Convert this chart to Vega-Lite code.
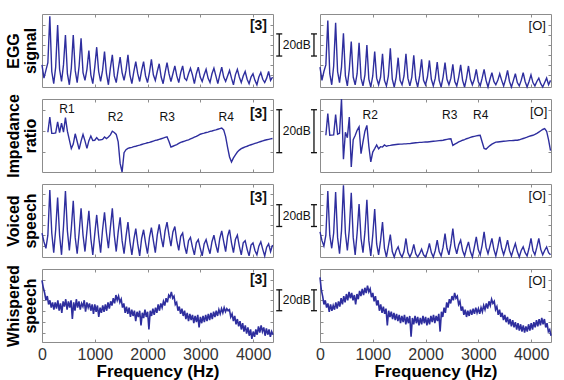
{
"$schema":"https://vega.github.io/schema/vega-lite/v6.json",
"padding":{"left":5,"top":12,"right":5,"bottom":0},
"bounds":"flush",
"spacing":{"row":12,"column":47},
"columns":2,
"config":{
 "font":"Liberation Sans",
 "view":{"stroke":"#8c8c8c"},
 "axis":{"grid":false,"domain":false,"tickColor":"#8c8c8c","tickSize":-3,"labelColor":"#333333","labelFontSize":16,"titleColor":"#000000"},
 "axisY":{"titleFontSize":16,"titleFontWeight":"bold","titleLineHeight":17,"titlePadding":3},
 "line":{"color":"#2e2e9e","strokeWidth":1.4}
},
"datasets":{
"h":[
{"f":0,"e1":20,"e2":18,"v1":22,"v2":23},
{"f":37,"e1":8,"e2":6,"v1":14,"v2":15},
{"f":74,"e1":15,"e2":14,"v1":8,"v2":10},
{"f":111,"e1":22,"e2":20,"i1":18.5,"i2":17.1,"v1":20,"v2":20},
{"f":148,"e1":64,"e2":60,"i1":25.6,"i2":27.2,"v1":61.5,"v2":60.6},
{"f":185,"e1":14,"e2":12,"i1":18,"i2":17.1,"v1":22,"v2":20},
{"f":222,"e1":3,"e2":2,"i1":18,"i2":17.2,"v1":4,"v2":8},
{"f":259,"e1":18,"e2":19,"i1":18.2,"i2":17.3,"v1":25,"v2":22},
{"f":296,"e1":56,"e2":58,"i1":23.3,"i2":26.7,"v1":54.6,"v2":59.7},
{"f":333,"e1":16,"e2":14,"i1":18.3,"i2":17.6,"v1":20,"v2":18},
{"f":370,"e1":5,"e2":4,"i1":22.8,"i2":18,"v1":2,"v2":3},
{"f":407,"e1":20,"e2":18,"i1":18.6,"i2":34,"v1":28,"v2":24},
{"f":444,"e1":47,"e2":48.5,"i1":25.3,"i2":6,"v1":60.6,"v2":65.8},
{"f":481,"e1":12,"e2":10,"i1":19,"i2":18.5,"v1":24,"v2":22},
{"f":518,"e1":2,"e2":1,"i1":15,"i2":16,"v1":6,"v2":6},
{"f":555,"e1":17,"e2":16,"i1":10.9,"i2":25.6,"v1":26,"v2":25},
{"f":592,"e1":47,"e2":41,"i1":13,"i2":2.3,"v1":51.6,"v2":59},
{"f":629,"e1":15,"e2":9,"i1":17.8,"i2":15,"v1":18,"v2":18},
{"f":666,"e1":4,"e2":2,"i1":14.2,"i2":17,"v1":3,"v2":2},
{"f":703,"e1":19,"e2":12,"i1":10.5,"i2":19.4,"v1":22,"v2":22},
{"f":740,"e1":44,"e2":40,"i1":14.4,"i2":21,"v1":44.6,"v2":48.6},
{"f":777,"e1":13,"e2":8,"i1":17.5,"i2":8.5,"v1":20,"v2":17},
{"f":814,"e1":6,"e2":1,"i1":14.5,"i2":14,"v1":5,"v2":4},
{"f":851,"e1":16,"e2":11,"i1":11,"i2":19,"v1":24,"v2":23},
{"f":888,"e1":33,"e2":38,"i1":14.6,"i2":21.7,"v1":42.5,"v2":52.5},
{"f":925,"e1":11,"e2":7,"i1":16.8,"i2":12,"v1":17,"v2":15},
{"f":962,"e1":3,"e2":0,"i1":14.7,"i2":4.7,"v1":2,"v2":1},
{"f":999,"e1":18,"e2":10,"i1":14.8,"i2":9.3,"v1":21,"v2":20},
{"f":1036,"e1":36,"e2":32,"i1":16,"i2":10.9,"v1":38.6,"v2":44},
{"f":1073,"e1":14,"e2":8,"i1":14.9,"i2":12.6,"v1":19,"v2":12},
{"f":1110,"e1":5,"e2":2,"i1":15,"i2":10.8,"v1":4,"v2":2},
{"f":1147,"e1":15,"e2":9,"i1":15.2,"i2":11.8,"v1":25,"v2":15},
{"f":1184,"e1":32,"e2":30,"i1":16.3,"i2":11.6,"v1":41,"v2":32},
{"f":1221,"e1":12,"e2":6,"i1":15.6,"i2":12.6,"v1":22,"v2":8},
{"f":1258,"e1":2,"e2":1,"i1":16.3,"i2":12,"v1":8,"v2":0},
{"f":1295,"e1":17,"e2":10,"i1":17.3,"i2":12.3,"v1":27,"v2":10},
{"f":1332,"e1":29,"e2":35,"i1":19,"i2":12.4,"v1":44.6,"v2":20.5},
{"f":1369,"e1":10,"e2":7,"i1":18.4,"i2":12.6,"v1":20,"v2":5},
{"f":1406,"e1":4,"e2":0,"i1":17.5,"i2":12.7,"v1":5,"v2":0},
{"f":1443,"e1":16,"e2":9,"i1":14,"i2":12.8,"v1":23,"v2":6},
{"f":1480,"e1":27,"e2":26.5,"i1":4,"i2":12.9,"v1":36.5,"v2":9.3},
{"f":1517,"e1":13,"e2":6,"i1":0,"i2":13,"v1":15,"v2":3},
{"f":1554,"e1":6,"e2":2,"i1":9,"i2":13,"v1":3,"v2":0},
{"f":1591,"e1":15,"e2":10,"i1":10.4,"i2":13.1,"v1":19,"v2":5},
{"f":1628,"e1":29,"e2":30,"i1":11,"i2":13.1,"v1":32,"v2":17},
{"f":1665,"e1":11,"e2":8,"i1":11.3,"i2":13.2,"v1":14,"v2":4},
{"f":1702,"e1":3,"e2":1,"i1":11.5,"i2":13.2,"v1":2,"v2":0},
{"f":1739,"e1":14,"e2":9,"i1":11.8,"i2":13.4,"v1":16,"v2":4},
{"f":1776,"e1":23,"e2":28.6,"i1":12,"i2":13.5,"v1":26,"v2":11.5},
{"f":1813,"e1":12,"e2":7,"i1":12.3,"i2":13.6,"v1":12,"v2":3},
{"f":1850,"e1":5,"e2":0,"i1":12.5,"i2":13.7,"v1":1,"v2":0},
{"f":1887,"e1":15,"e2":10,"i1":12.8,"i2":13.8,"v1":17,"v2":3},
{"f":1924,"e1":23,"e2":25,"i1":13.1,"i2":13.8,"v1":25,"v2":7.2},
{"f":1961,"e1":10,"e2":6,"i1":13.3,"i2":13.9,"v1":13,"v2":2},
{"f":1998,"e1":4,"e2":2,"i1":13.6,"i2":14,"v1":3,"v2":0},
{"f":2035,"e1":13,"e2":9,"i1":13.8,"i2":14,"v1":18,"v2":5},
{"f":2072,"e1":25,"e2":24,"i1":14.1,"i2":14.1,"v1":27,"v2":12.4},
{"f":2109,"e1":11,"e2":7,"i1":14.4,"i2":14.2,"v1":15,"v2":4},
{"f":2146,"e1":6,"e2":1,"i1":14.7,"i2":14.3,"v1":4,"v2":0},
{"f":2183,"e1":14,"e2":8,"i1":14.9,"i2":14.4,"v1":20,"v2":6},
{"f":2220,"e1":21,"e2":22.6,"i1":15.2,"i2":14.5,"v1":30,"v2":15.4},
{"f":2257,"e1":9,"e2":6,"i1":15.5,"i2":14.6,"v1":18,"v2":5},
{"f":2294,"e1":3,"e2":0,"i1":15.8,"i2":14.7,"v1":9,"v2":1},
{"f":2331,"e1":13,"e2":9,"i1":16.1,"i2":14.8,"v1":24,"v2":9},
{"f":2368,"e1":22,"e2":22,"i1":16.4,"i2":15,"v1":32,"v2":21.4},
{"f":2405,"e1":12,"e2":7,"i1":14.2,"i2":15.2,"v1":20,"v2":8},
{"f":2442,"e1":5,"e2":2,"i1":11.6,"i2":15.4,"v1":10,"v2":2},
{"f":2479,"e1":12,"e2":8,"i1":12,"i2":15.5,"v1":23,"v2":12},
{"f":2516,"e1":19,"e2":20.5,"i1":12.4,"i2":12.4,"v1":28,"v2":26},
{"f":2553,"e1":10,"e2":5,"i1":12.8,"i2":13,"v1":15,"v2":10},
{"f":2590,"e1":4,"e2":1,"i1":13.3,"i2":13.5,"v1":6,"v2":3},
{"f":2627,"e1":13,"e2":9,"i1":13.8,"i2":14,"v1":19,"v2":11},
{"f":2664,"e1":19,"e2":20,"i1":14.1,"i2":14.4,"v1":22,"v2":15.4},
{"f":2701,"e1":8,"e2":6,"i1":14.4,"i2":14.8,"v1":10,"v2":6},
{"f":2738,"e1":6,"e2":0,"i1":14.7,"i2":15.1,"v1":3,"v2":1},
{"f":2775,"e1":12,"e2":8,"i1":15,"i2":15.5,"v1":15,"v2":8},
{"f":2812,"e1":17,"e2":19,"i1":15.4,"i2":15.8,"v1":18,"v2":13.9},
{"f":2849,"e1":11,"e2":7,"i1":15.8,"i2":16.1,"v1":9,"v2":5},
{"f":2886,"e1":3,"e2":2,"i1":16.2,"i2":16.4,"v1":2,"v2":0},
{"f":2923,"e1":12,"e2":7,"i1":16.6,"i2":16.6,"v1":13,"v2":9},
{"f":2960,"e1":18,"e2":16,"i1":17.1,"i2":16.8,"v1":16,"v2":18.4},
{"f":2997,"e1":9,"e2":5,"i1":17.6,"i2":17,"v1":8,"v2":7},
{"f":3034,"e1":5,"e2":1,"i1":17.9,"i2":17.1,"v1":1,"v2":2},
{"f":3071,"e1":11,"e2":8,"i1":18.1,"i2":14,"v1":12,"v2":11},
{"f":3108,"e1":16,"e2":16,"i1":18.4,"i2":11,"v1":16,"v2":23},
{"f":3145,"e1":8,"e2":6,"i1":18.6,"i2":10.6,"v1":9,"v2":9},
{"f":3182,"e1":4,"e2":0,"i1":18.9,"i2":11.5,"v1":3,"v2":3},
{"f":3219,"e1":12,"e2":7,"i1":19.1,"i2":12.3,"v1":14,"v2":10},
{"f":3256,"e1":17,"e2":13,"i1":19.4,"i2":13,"v1":20,"v2":17},
{"f":3293,"e1":10,"e2":5,"i1":19.6,"i2":13.5,"v1":11,"v2":7},
{"f":3330,"e1":3,"e2":2,"i1":19.9,"i2":13.9,"v1":4,"v2":1},
{"f":3367,"e1":11,"e2":6,"i1":20.2,"i2":14,"v1":17,"v2":9},
{"f":3404,"e1":18,"e2":12,"i1":20.5,"i2":14.1,"v1":24,"v2":18.4},
{"f":3441,"e1":9,"e2":6,"i1":19.6,"i2":14.2,"v1":14,"v2":8},
{"f":3478,"e1":5,"e2":1,"i1":16.5,"i2":14.3,"v1":5,"v2":2},
{"f":3515,"e1":10,"e2":7,"i1":11.5,"i2":14.4,"v1":19,"v2":8},
{"f":3552,"e1":15,"e2":15,"i1":7,"i2":14.5,"v1":25,"v2":15.4},
{"f":3589,"e1":8,"e2":5,"i1":4.7,"i2":14.6,"v1":13,"v2":6},
{"f":3626,"e1":2,"e2":0,"i1":6.6,"i2":14.6,"v1":4,"v2":1},
{"f":3663,"e1":11,"e2":6,"i1":8,"i2":14.7,"v1":16,"v2":7},
{"f":3700,"e1":16,"e2":12,"i1":9.3,"i2":14.8,"v1":20,"v2":12.4},
{"f":3737,"e1":9,"e2":4,"i1":10.2,"i2":14.8,"v1":10,"v2":5},
{"f":3774,"e1":4,"e2":1,"i1":10.9,"i2":15,"v1":2,"v2":0},
{"f":3811,"e1":10,"e2":6,"i1":11.3,"i2":15.3,"v1":13,"v2":6},
{"f":3848,"e1":14,"e2":13,"i1":11.7,"i2":15.6,"v1":15,"v2":9.3},
{"f":3885,"e1":7,"e2":5,"i1":12,"i2":15.9,"v1":7,"v2":4},
{"f":3922,"e1":3,"e2":0,"i1":12.4,"i2":16.2,"v1":1,"v2":1},
{"f":3959,"e1":9,"e2":5,"i1":12.7,"i2":16.6,"v1":11,"v2":8},
{"f":3996,"e1":12,"e2":11,"i1":13,"i2":16.9,"v1":13,"v2":17},
{"f":4033,"e1":6,"e2":4,"i1":13.3,"i2":17.1,"v1":6,"v2":6},
{"f":4070,"e1":2,"e2":1,"i1":13.6,"i2":17.5,"v1":2,"v2":2},
{"f":4107,"e1":9,"e2":5,"i1":13.9,"i2":18,"v1":10,"v2":9},
{"f":4144,"e1":13,"e2":8,"i1":14.2,"i2":18.6,"v1":14,"v2":17},
{"f":4181,"e1":7,"e2":3,"i1":14.5,"i2":19.2,"v1":7,"v2":7},
{"f":4218,"e1":4,"e2":0,"i1":14.8,"i2":19.8,"v1":1,"v2":2},
{"f":4255,"e1":8,"e2":4,"i1":15,"i2":20.2,"v1":9,"v2":6},
{"f":4292,"e1":14,"e2":8,"i1":15.2,"i2":19,"v1":12,"v2":9.3},
{"f":4329,"e1":6,"e2":2,"i1":15.4,"i2":15,"v1":5,"v2":4},
{"f":4366,"e1":9,"e2":6,"i1":15.6,"i2":10,"v1":11,"v2":2}
],
"w":[
{"f":0,"l":59,"r":62},{"f":25,"l":52,"r":50},{"f":50,"l":47,"r":44},{"f":75,"l":40,"r":36},{"f":100,"l":44,"r":40},
{"f":125,"l":36,"r":33},{"f":150,"l":40,"r":37},{"f":175,"l":33,"r":29},{"f":200,"l":38,"r":36},{"f":225,"l":31,"r":30},
{"f":250,"l":38,"r":35},{"f":275,"l":32,"r":31},{"f":300,"l":40,"r":38},{"f":325,"l":30,"r":32},{"f":350,"l":37,"r":39},
{"f":375,"l":28,"r":34},{"f":400,"l":39,"r":42},{"f":425,"l":34,"r":36},{"f":450,"l":41,"r":44},{"f":475,"l":31,"r":38},
{"f":500,"l":39,"r":46},{"f":525,"l":33,"r":40},{"f":550,"l":40,"r":48},{"f":575,"l":22,"r":42},{"f":600,"l":38,"r":47},
{"f":625,"l":30,"r":40},{"f":650,"l":41,"r":45},{"f":675,"l":33,"r":36},{"f":700,"l":39,"r":46},{"f":725,"l":31,"r":41},
{"f":750,"l":37,"r":49},{"f":775,"l":34,"r":44},{"f":800,"l":40,"r":51},{"f":825,"l":29,"r":45},{"f":850,"l":38,"r":52},
{"f":875,"l":33,"r":47},{"f":900,"l":37,"r":54},{"f":925,"l":30,"r":48},{"f":950,"l":36,"r":51},{"f":975,"l":27,"r":43},
{"f":1000,"l":36,"r":47},{"f":1025,"l":29,"r":39},{"f":1050,"l":35,"r":44},{"f":1075,"l":24,"r":35},{"f":1100,"l":33,"r":40},
{"f":1125,"l":28,"r":30},{"f":1150,"l":35,"r":36},{"f":1175,"l":29,"r":28},{"f":1200,"l":36,"r":34},{"f":1225,"l":30,"r":27},
{"f":1250,"l":38,"r":32},{"f":1275,"l":32,"r":16},{"f":1300,"l":39,"r":30},{"f":1325,"l":35,"r":24},{"f":1350,"l":42,"r":29},
{"f":1375,"l":37,"r":22},{"f":1400,"l":45,"r":28},{"f":1425,"l":40,"r":21},{"f":1450,"l":44,"r":27},{"f":1475,"l":38,"r":20},
{"f":1500,"l":41,"r":26},{"f":1525,"l":33,"r":18},{"f":1550,"l":37,"r":25},{"f":1575,"l":28,"r":19},{"f":1600,"l":34,"r":26},
{"f":1625,"l":27,"r":17},{"f":1650,"l":33,"r":24},{"f":1675,"l":24,"r":18},{"f":1700,"l":31,"r":25},{"f":1725,"l":25,"r":5},
{"f":1750,"l":30,"r":23},{"f":1775,"l":20,"r":17},{"f":1800,"l":29,"r":25},{"f":1825,"l":24,"r":18},{"f":1850,"l":30,"r":24},
{"f":1875,"l":16,"r":16},{"f":1900,"l":28,"r":23},{"f":1925,"l":23,"r":17},{"f":1950,"l":31,"r":25},{"f":1975,"l":24,"r":18},
{"f":2000,"l":29,"r":24},{"f":2025,"l":12,"r":16},{"f":2050,"l":30,"r":23},{"f":2075,"l":25,"r":17},{"f":2100,"l":32,"r":25},
{"f":2125,"l":26,"r":19},{"f":2150,"l":33,"r":26},{"f":2175,"l":28,"r":18},{"f":2200,"l":36,"r":25},{"f":2225,"l":30,"r":20},
{"f":2250,"l":37,"r":27},{"f":2275,"l":33,"r":10},{"f":2300,"l":39,"r":29},{"f":2325,"l":35,"r":24},{"f":2350,"l":42,"r":33},
{"f":2375,"l":38,"r":28},{"f":2400,"l":45,"r":38},{"f":2425,"l":43,"r":33},{"f":2450,"l":48,"r":41},{"f":2475,"l":42,"r":37},
{"f":2500,"l":44,"r":44},{"f":2525,"l":36,"r":40},{"f":2550,"l":38,"r":47},{"f":2575,"l":30,"r":42},{"f":2600,"l":34,"r":44},
{"f":2625,"l":27,"r":36},{"f":2650,"l":32,"r":39},{"f":2675,"l":25,"r":30},{"f":2700,"l":30,"r":34},{"f":2725,"l":22,"r":26},
{"f":2750,"l":28,"r":31},{"f":2775,"l":20,"r":24},{"f":2800,"l":27,"r":30},{"f":2825,"l":21,"r":25},{"f":2850,"l":26,"r":31},
{"f":2875,"l":18,"r":26},{"f":2900,"l":25,"r":32},{"f":2925,"l":19,"r":27},{"f":2950,"l":26,"r":33},{"f":2975,"l":14,"r":28},
{"f":3000,"l":24,"r":32},{"f":3025,"l":18,"r":27},{"f":3050,"l":25,"r":33},{"f":3075,"l":19,"r":29},{"f":3100,"l":26,"r":35},
{"f":3125,"l":20,"r":31},{"f":3150,"l":27,"r":37},{"f":3175,"l":21,"r":32},{"f":3200,"l":28,"r":39},{"f":3225,"l":22,"r":35},
{"f":3250,"l":29,"r":41},{"f":3275,"l":24,"r":37},{"f":3300,"l":30,"r":39},{"f":3325,"l":25,"r":31},{"f":3350,"l":31,"r":34},
{"f":3375,"l":27,"r":26},{"f":3400,"l":32,"r":31},{"f":3425,"l":28,"r":24},{"f":3450,"l":33,"r":28},{"f":3475,"l":29,"r":21},
{"f":3500,"l":32,"r":26},{"f":3525,"l":30,"r":19},{"f":3550,"l":31,"r":24},{"f":3575,"l":24,"r":17},{"f":3600,"l":27,"r":22},
{"f":3625,"l":20,"r":15},{"f":3650,"l":25,"r":21},{"f":3675,"l":17,"r":14},{"f":3700,"l":22,"r":19},{"f":3725,"l":15,"r":12},
{"f":3750,"l":20,"r":18},{"f":3775,"l":12,"r":11},{"f":3800,"l":18,"r":17},{"f":3825,"l":10,"r":10},{"f":3850,"l":16,"r":16},
{"f":3875,"l":8,"r":9},{"f":3900,"l":14,"r":15},{"f":3925,"l":6,"r":10},{"f":3950,"l":12,"r":17},{"f":3975,"l":3,"r":11},
{"f":4000,"l":10,"r":18},{"f":4025,"l":5,"r":12},{"f":4050,"l":12,"r":19},{"f":4075,"l":7,"r":14},{"f":4100,"l":15,"r":21},
{"f":4125,"l":9,"r":15},{"f":4150,"l":16,"r":22},{"f":4175,"l":10,"r":16},{"f":4200,"l":14,"r":23},{"f":4225,"l":6,"r":17},
{"f":4250,"l":13,"r":22},{"f":4275,"l":7,"r":14},{"f":4300,"l":12,"r":18},{"f":4325,"l":5,"r":10},{"f":4350,"l":10,"r":12},
{"f":4375,"l":7,"r":6}
]
},
"concat":[
 {"width":231,"height":73,"layer":[
  {"data":{"name":"h"},"mark":"line","encoding":{
   "x":{"field":"f","type":"quantitative","scale":{"domain":[0,4375],"nice":false},"axis":{"orient":"bottom","title":null,"labels":false,"values":[1000,2000,3000,4000]}},
   "y":{"field":"e1","type":"quantitative","scale":{"domain":[0,66],"nice":false},"axis":{"orient":"left","title":["EGG","signal"],"titleLineHeight":17,"labels":false,"values":[11,20,29,38,47,56]}}}},
  {"data":{"values":[{"x":4100,"y":55,"t":"[3]"}]},"mark":{"type":"text","fontSize":14,"fontWeight":"bold","color":"#111111"},"encoding":{
   "x":{"field":"x","type":"quantitative","axis":{"orient":"top","title":null,"labels":false,"values":[1000,2000,3000,4000]}},
   "y":{"field":"y","type":"quantitative","axis":{"orient":"right","title":null,"labels":false,"values":[11,20,29,38,47,56]}},
   "text":{"field":"t"}}},
  {"data":{"values":[{"x":4493,"x2":4493,"y":28,"y2":48},{"x":4436,"x2":4550,"y":28,"y2":28},{"x":4436,"x2":4550,"y":48,"y2":48},{"x":5151,"x2":5151,"y":28,"y2":48},{"x":5094,"x2":5208,"y":28,"y2":28},{"x":5094,"x2":5208,"y":48,"y2":48}]},"mark":{"type":"rule","color":"#111111","strokeWidth":1.3},"encoding":{
   "x":{"field":"x","type":"quantitative","axis":null},"x2":{"field":"x2"},"y":{"field":"y","type":"quantitative","axis":null},"y2":{"field":"y2"}}},
  {"data":{"values":[{"x":4825,"y":38,"t":"20dB"}]},"mark":{"type":"text","fontSize":12,"color":"#111111"},"encoding":{
   "x":{"field":"x","type":"quantitative","axis":null},"y":{"field":"y","type":"quantitative","axis":null},"text":{"field":"t"}}}
 ]},
 {"width":231,"height":73,"layer":[
  {"data":{"name":"h"},"mark":"line","encoding":{
   "x":{"field":"f","type":"quantitative","scale":{"domain":[0,4375],"nice":false},"axis":{"orient":"bottom","title":null,"labels":false,"values":[1000,2000,3000,4000]}},
   "y":{"field":"e2","type":"quantitative","scale":{"domain":[0,66],"nice":false},"axis":{"orient":"left","title":null,"labels":false,"values":[11,20,29,38,47,56]}}}},
  {"data":{"values":[{"x":4115,"y":55,"t":"[O]"}]},"mark":{"type":"text","fontSize":13,"color":"#111111"},"encoding":{
   "x":{"field":"x","type":"quantitative","axis":{"orient":"top","title":null,"labels":false,"values":[1000,2000,3000,4000]}},
   "y":{"field":"y","type":"quantitative","axis":{"orient":"right","title":null,"labels":false,"values":[11,20,29,38,47,56]}},
   "text":{"field":"t"}}}
 ]},
 {"width":231,"height":73,"layer":[
  {"data":{"name":"h"},"mark":"line","encoding":{
   "x":{"field":"f","type":"quantitative","scale":{"domain":[0,4375],"nice":false},"axis":{"orient":"bottom","title":null,"labels":false,"values":[1000,2000,3000,4000]}},
   "y":{"field":"i1","type":"quantitative","scale":{"domain":[0,34],"nice":false},"axis":{"orient":"left","title":["Impedance","ratio"],"titleLineHeight":17,"labels":false,"values":[9.3,19,28.7]}}}},
  {"data":{"values":[{"x":4100,"y":27.2,"t":"[3]"}]},"mark":{"type":"text","fontSize":14,"fontWeight":"bold","color":"#111111"},"encoding":{
   "x":{"field":"x","type":"quantitative","axis":{"orient":"top","title":null,"labels":false,"values":[1000,2000,3000,4000]}},
   "y":{"field":"y","type":"quantitative","axis":{"orient":"right","title":null,"labels":false,"values":[9.3,19,28.7]}},
   "text":{"field":"t"}}},
  {"data":{"values":[{"x":474,"y":29.5,"t":"R1"},{"x":1390,"y":25.6,"t":"R2"},{"x":2370,"y":25.6,"t":"R3"},{"x":3488,"y":25.6,"t":"R4"}]},"mark":{"type":"text","fontSize":12,"color":"#111111"},"encoding":{
   "x":{"field":"x","type":"quantitative","axis":null},"y":{"field":"y","type":"quantitative","axis":null},"text":{"field":"t"}}},
  {"data":{"values":[{"x":4493,"x2":4493,"y":9,"y2":29},{"x":4436,"x2":4550,"y":9,"y2":9},{"x":4436,"x2":4550,"y":29,"y2":29},{"x":5151,"x2":5151,"y":9,"y2":29},{"x":5094,"x2":5208,"y":9,"y2":9},{"x":5094,"x2":5208,"y":29,"y2":29}]},"mark":{"type":"rule","color":"#111111","strokeWidth":1.3},"encoding":{
   "x":{"field":"x","type":"quantitative","axis":null},"x2":{"field":"x2"},"y":{"field":"y","type":"quantitative","axis":null},"y2":{"field":"y2"}}},
  {"data":{"values":[{"x":4825,"y":19,"t":"20dB"}]},"mark":{"type":"text","fontSize":12,"color":"#111111"},"encoding":{
   "x":{"field":"x","type":"quantitative","axis":null},"y":{"field":"y","type":"quantitative","axis":null},"text":{"field":"t"}}}
 ]},
 {"width":231,"height":73,"layer":[
  {"data":{"name":"h"},"mark":"line","encoding":{
   "x":{"field":"f","type":"quantitative","scale":{"domain":[0,4375],"nice":false},"axis":{"orient":"bottom","title":null,"labels":false,"values":[1000,2000,3000,4000]}},
   "y":{"field":"i2","type":"quantitative","scale":{"domain":[0,34],"nice":false},"axis":{"orient":"left","title":null,"labels":false,"values":[9.3,19,28.7]}}}},
  {"data":{"values":[{"x":4140,"y":28,"t":"[O]"}]},"mark":{"type":"text","fontSize":13,"color":"#111111"},"encoding":{
   "x":{"field":"x","type":"quantitative","axis":{"orient":"top","title":null,"labels":false,"values":[1000,2000,3000,4000]}},
   "y":{"field":"y","type":"quantitative","axis":{"orient":"right","title":null,"labels":false,"values":[9.3,19,28.7]}},
   "text":{"field":"t"}}},
  {"data":{"values":[{"x":951,"y":26.4,"t":"R2"},{"x":2457,"y":26.4,"t":"R3"},{"x":3043,"y":26.4,"t":"R4"}]},"mark":{"type":"text","fontSize":12,"color":"#111111"},"encoding":{
   "x":{"field":"x","type":"quantitative","axis":null},"y":{"field":"y","type":"quantitative","axis":null},"text":{"field":"t"}}}
 ]},
 {"width":231,"height":73,"layer":[
  {"data":{"name":"h"},"mark":"line","encoding":{
   "x":{"field":"f","type":"quantitative","scale":{"domain":[0,4375],"nice":false},"axis":{"orient":"bottom","title":null,"labels":false,"values":[1000,2000,3000,4000]}},
   "y":{"field":"v1","type":"quantitative","scale":{"domain":[0,67],"nice":false},"axis":{"orient":"left","title":["Voiced","speech"],"titleLineHeight":17,"labels":false,"values":[10,20,29,38.6,47.7,57.6]}}}},
  {"data":{"values":[{"x":4100,"y":54.6,"t":"[3]"}]},"mark":{"type":"text","fontSize":14,"fontWeight":"bold","color":"#111111"},"encoding":{
   "x":{"field":"x","type":"quantitative","axis":{"orient":"top","title":null,"labels":false,"values":[1000,2000,3000,4000]}},
   "y":{"field":"y","type":"quantitative","axis":{"orient":"right","title":null,"labels":false,"values":[10,20,29,38.6,47.7,57.6]}},
   "text":{"field":"t"}}},
  {"data":{"values":[{"x":4493,"x2":4493,"y":28,"y2":48},{"x":4436,"x2":4550,"y":28,"y2":28},{"x":4436,"x2":4550,"y":48,"y2":48},{"x":5151,"x2":5151,"y":28,"y2":48},{"x":5094,"x2":5208,"y":28,"y2":28},{"x":5094,"x2":5208,"y":48,"y2":48}]},"mark":{"type":"rule","color":"#111111","strokeWidth":1.3},"encoding":{
   "x":{"field":"x","type":"quantitative","axis":null},"x2":{"field":"x2"},"y":{"field":"y","type":"quantitative","axis":null},"y2":{"field":"y2"}}},
  {"data":{"values":[{"x":4825,"y":38,"t":"20dB"}]},"mark":{"type":"text","fontSize":12,"color":"#111111"},"encoding":{
   "x":{"field":"x","type":"quantitative","axis":null},"y":{"field":"y","type":"quantitative","axis":null},"text":{"field":"t"}}}
 ]},
 {"width":231,"height":73,"layer":[
  {"data":{"name":"h"},"mark":"line","encoding":{
   "x":{"field":"f","type":"quantitative","scale":{"domain":[0,4375],"nice":false},"axis":{"orient":"bottom","title":null,"labels":false,"values":[1000,2000,3000,4000]}},
   "y":{"field":"v2","type":"quantitative","scale":{"domain":[0,67],"nice":false},"axis":{"orient":"left","title":null,"labels":false,"values":[10,20,29,38.6,47.7,57.6]}}}},
  {"data":{"values":[{"x":4115,"y":56,"t":"[O]"}]},"mark":{"type":"text","fontSize":13,"color":"#111111"},"encoding":{
   "x":{"field":"x","type":"quantitative","axis":{"orient":"top","title":null,"labels":false,"values":[1000,2000,3000,4000]}},
   "y":{"field":"y","type":"quantitative","axis":{"orient":"right","title":null,"labels":false,"values":[10,20,29,38.6,47.7,57.6]}},
   "text":{"field":"t"}}}
 ]},
 {"width":231,"height":73,"layer":[
  {"data":{"name":"w"},"mark":{"type":"line","strokeWidth":1.6},"encoding":{
   "x":{"field":"f","type":"quantitative","scale":{"domain":[0,4375],"nice":false},"axis":{"orient":"bottom","title":"Frequency (Hz)","labels":true,"format":"d","labelFlush":false,"labelPadding":7,"values":[0,1000,2000,3000,4000],"titleFontSize":17,"titleFontWeight":"bold","titlePadding":1}},
   "y":{"field":"l","type":"quantitative","scale":{"domain":[0,70],"nice":false},"axis":{"orient":"left","title":["Whispered","speech"],"titleLineHeight":17,"labels":false,"values":[8.6,19.2,29.7,40,49.6,59.7]}}}},
  {"data":{"values":[{"x":4100,"y":59,"t":"[3]"}]},"mark":{"type":"text","fontSize":14,"fontWeight":"bold","color":"#111111"},"encoding":{
   "x":{"field":"x","type":"quantitative","axis":{"orient":"top","title":null,"labels":false,"values":[1000,2000,3000,4000]}},
   "y":{"field":"y","type":"quantitative","axis":{"orient":"right","title":null,"labels":false,"values":[8.6,19.2,29.7,40,49.6,59.7]}},
   "text":{"field":"t"}}},
  {"data":{"values":[{"x":4493,"x2":4493,"y":30,"y2":50},{"x":4436,"x2":4550,"y":30,"y2":30},{"x":4436,"x2":4550,"y":50,"y2":50},{"x":5151,"x2":5151,"y":30,"y2":50},{"x":5094,"x2":5208,"y":30,"y2":30},{"x":5094,"x2":5208,"y":50,"y2":50}]},"mark":{"type":"rule","color":"#111111","strokeWidth":1.3},"encoding":{
   "x":{"field":"x","type":"quantitative","axis":null},"x2":{"field":"x2"},"y":{"field":"y","type":"quantitative","axis":null},"y2":{"field":"y2"}}},
  {"data":{"values":[{"x":4825,"y":40,"t":"20dB"}]},"mark":{"type":"text","fontSize":12,"color":"#111111"},"encoding":{
   "x":{"field":"x","type":"quantitative","axis":null},"y":{"field":"y","type":"quantitative","axis":null},"text":{"field":"t"}}}
 ]},
 {"width":231,"height":73,"layer":[
  {"data":{"name":"w"},"mark":{"type":"line","strokeWidth":1.6},"encoding":{
   "x":{"field":"f","type":"quantitative","scale":{"domain":[0,4375],"nice":false},"axis":{"orient":"bottom","title":"Frequency (Hz)","labels":true,"format":"d","labelFlush":false,"labelPadding":7,"values":[0,1000,2000,3000,4000],"titleFontSize":17,"titleFontWeight":"bold","titlePadding":1}},
   "y":{"field":"r","type":"quantitative","scale":{"domain":[0,70],"nice":false},"axis":{"orient":"left","title":null,"labels":false,"values":[8.6,19.2,29.7,40,49.6,59.7]}}}},
  {"data":{"values":[{"x":4115,"y":58.5,"t":"[O]"}]},"mark":{"type":"text","fontSize":13,"color":"#111111"},"encoding":{
   "x":{"field":"x","type":"quantitative","axis":{"orient":"top","title":null,"labels":false,"values":[1000,2000,3000,4000]}},
   "y":{"field":"y","type":"quantitative","axis":{"orient":"right","title":null,"labels":false,"values":[8.6,19.2,29.7,40,49.6,59.7]}},
   "text":{"field":"t"}}}
 ]}
]
}
